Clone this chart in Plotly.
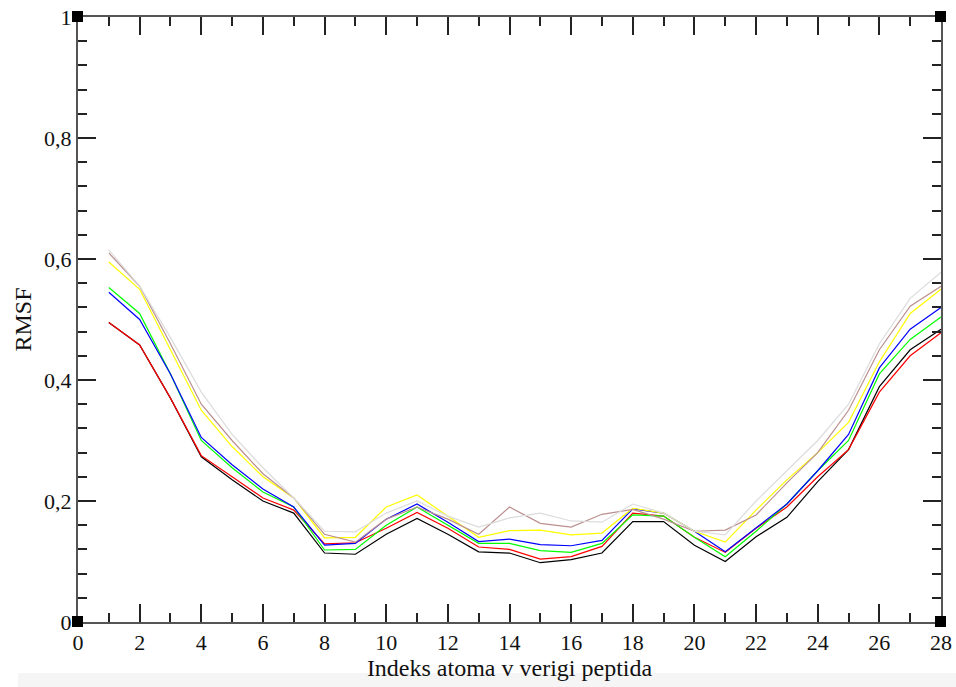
import plotly.graph_objects as go

idx = list(range(1, 29))

black = [0.495, 0.458, 0.37, 0.273, 0.235, 0.2, 0.18, 0.114, 0.112, 0.145, 0.171, 0.145, 0.116, 0.114, 0.098, 0.103, 0.114, 0.166, 0.166, 0.127, 0.1, 0.141, 0.173, 0.232, 0.285, 0.389, 0.45, 0.484]
red = [0.495, 0.458, 0.37, 0.275, 0.24, 0.205, 0.185, 0.129, 0.131, 0.155, 0.181, 0.155, 0.124, 0.12, 0.104, 0.108, 0.125, 0.18, 0.175, 0.14, 0.115, 0.155, 0.19, 0.24, 0.285, 0.38, 0.44, 0.478]
green = [0.553, 0.51, 0.41, 0.3, 0.255, 0.215, 0.19, 0.119, 0.12, 0.16, 0.19, 0.16, 0.13, 0.13, 0.118, 0.115, 0.13, 0.177, 0.175, 0.14, 0.108, 0.15, 0.195, 0.25, 0.3, 0.41, 0.467, 0.504]
blue = [0.545, 0.5, 0.41, 0.305, 0.26, 0.22, 0.19, 0.127, 0.13, 0.17, 0.195, 0.165, 0.133, 0.137, 0.128, 0.126, 0.135, 0.187, 0.18, 0.15, 0.116, 0.155, 0.195, 0.25, 0.31, 0.42, 0.484, 0.52]
yellow = [0.595, 0.55, 0.45, 0.35, 0.29, 0.24, 0.205, 0.139, 0.14, 0.19, 0.21, 0.175, 0.14, 0.151, 0.152, 0.144, 0.147, 0.188, 0.18, 0.15, 0.132, 0.185, 0.235, 0.28, 0.33, 0.43, 0.51, 0.55]
brown = [0.61, 0.555, 0.46, 0.36, 0.3, 0.245, 0.205, 0.145, 0.132, 0.17, 0.19, 0.17, 0.145, 0.19, 0.163, 0.157, 0.178, 0.186, 0.17, 0.15, 0.152, 0.177, 0.23, 0.28, 0.35, 0.45, 0.522, 0.555]
grey = [0.615, 0.555, 0.47, 0.38, 0.31, 0.255, 0.205, 0.15, 0.149, 0.18, 0.2, 0.175, 0.157, 0.172, 0.18, 0.167, 0.165, 0.195, 0.18, 0.15, 0.144, 0.2, 0.25, 0.3, 0.36, 0.46, 0.535, 0.578]

series = [
    ("black", black, "#000000"),
    ("red", red, "#ff0000"),
    ("green", green, "#00ff00"),
    ("blue", blue, "#0000ff"),
    ("yellow", yellow, "#ffff00"),
    ("brown", brown, "#bc8f8f"),
    ("grey", grey, "#dcdcdc"),
]

x_tickvals = list(range(0, 29, 2))
x_ticktext = [str(v) for v in x_tickvals]
y_tickvals = [0, 0.2, 0.4, 0.6, 0.8, 1.0]
y_ticktext = ["0", "0,2", "0,4", "0,6", "0,8", "1"]

fig = go.Figure()
for name, vals, col in series:
    fig.add_trace(go.Scatter(x=idx, y=vals, mode="lines", name=name,
                             line=dict(color=col, width=1.2), showlegend=False))

tick_font = dict(family="Liberation Serif", size=22, color="#111")
title_font = dict(family="Liberation Serif", size=24, color="#111")
axis_common = dict(showgrid=False, zeroline=False, showline=True, linecolor="#555",
                   linewidth=2, mirror="allticks", ticks="inside", ticklen=18,
                   tickwidth=1.5, tickcolor="#222", tickfont=tick_font, automargin=False)

fig.update_xaxes(range=[0, 28], tickvals=x_tickvals, ticktext=x_ticktext,
                 minor=dict(ticks="inside", ticklen=9, tickwidth=1.5, tickcolor="#222", dtick=1),
                 title=dict(text="Indeks atoma v verigi peptida", font=title_font, standoff=0),
                 **axis_common)
fig.update_yaxes(range=[0, 1], tickvals=y_tickvals, ticktext=y_ticktext,
                 minor=dict(ticks="inside", ticklen=9, tickwidth=1.5, tickcolor="#222", dtick=0.04, tick0=0),
                 title=dict(text="RMSF", font=title_font, standoff=6),
                 **axis_common)

shapes = []
for xa, ya in [(0, 0), (1, 0), (0, 1), (1, 1)]:
    shapes.append(dict(type="rect", xref="paper", yref="paper",
                       xsizemode="pixel", ysizemode="pixel", xanchor=xa, yanchor=ya,
                       x0=-6, x1=5, y0=-5, y1=6,
                       fillcolor="black", line=dict(width=0), layer="above"))
shapes.append(dict(type="rect", xref="paper", yref="paper", xsizemode="pixel", ysizemode="pixel",
                   xanchor=0, yanchor=0, x0=-60, x1=900, y0=-51, y1=-70,
                   fillcolor="#f5f5f5", line=dict(width=0), layer="below"))

fig.update_layout(width=956, height=687, margin=dict(l=78, r=15, t=17, b=65),
                  paper_bgcolor="white", plot_bgcolor="white", shapes=shapes,
                  font=tick_font)

fig.write_html("out.html")
